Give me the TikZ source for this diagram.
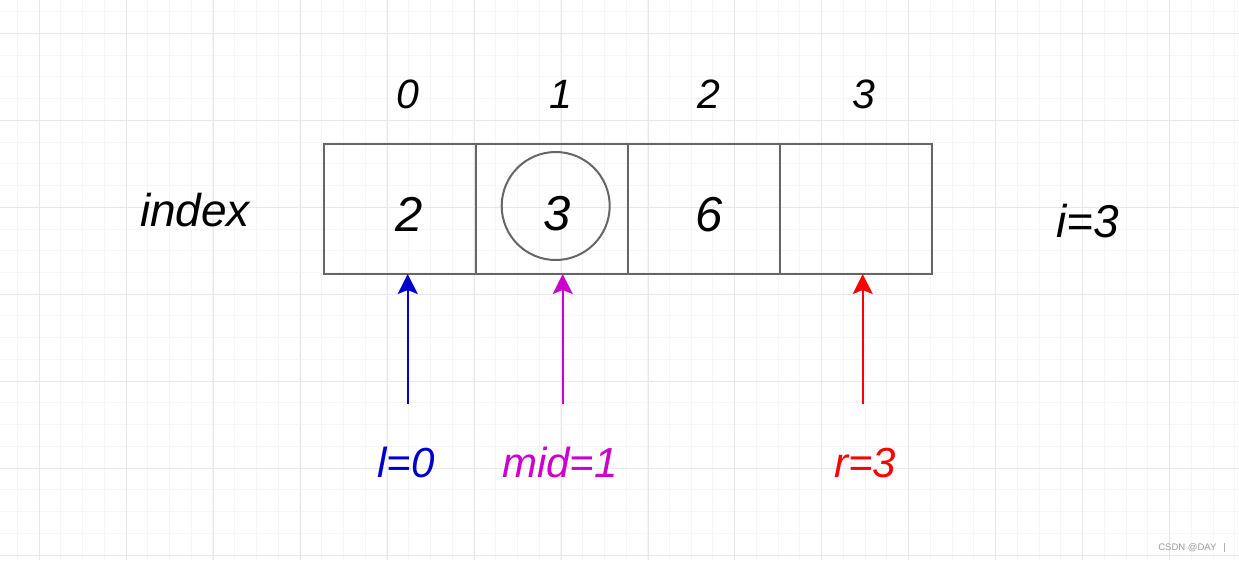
\documentclass[tikz,border=0pt]{standalone}
\usepackage{fontspec}
\setmainfont{Liberation Sans}
\usetikzlibrary{arrows.meta}
\definecolor{gridminor}{HTML}{F6F6F6}
\definecolor{gridmajor}{HTML}{E8E8E8}
\definecolor{boxgray}{HTML}{666666}
\definecolor{lblue}{HTML}{0000CC}
\definecolor{lmag}{HTML}{CC00CC}
\definecolor{lred}{HTML}{FF0000}
\definecolor{wm}{HTML}{9A9A9A}
\tikzset{
  cell/.style={draw=boxgray, line width=2pt, minimum width=152.1pt, minimum height=130.3pt, inner sep=0pt, outer sep=0pt, anchor=north west},
  mark circle/.style={draw=boxgray, line width=2pt, circle, minimum size=108pt, inner sep=0pt, outer sep=0pt},
  txt/.style={font=\fontsize{#1}{#1}\selectfont\itshape, inner sep=0pt, anchor=base},
  ptr/.style={line width=2pt, draw=#1, -{Stealth[length=20pt,width=20pt,inset=4pt]}},
}
\begin{document}
\begin{tikzpicture}[x=1pt,y=-1pt]
\useasboundingbox (0,0) rectangle (1239,560);
\fill[white] (0,0) rectangle (1239,560);
% grid
\foreach \i in {0,...,56} {\draw[gridminor, line width=1pt] ({17.3+\i*21.74},0) -- ({17.3+\i*21.74},560);}
\foreach \j in {0,...,25} {\draw[gridminor, line width=1pt] (0,{11.6+\j*21.74}) -- (1239,{11.6+\j*21.74});}
\foreach \i in {0,...,13} {\draw[gridmajor, line width=1pt] ({39.3+\i*86.96},0) -- ({39.3+\i*86.96},560);}
\foreach \j in {0,...,6} {\draw[gridmajor, line width=1pt] (0,{33.3+\j*86.96}) -- (1239,{33.3+\j*86.96});}

% cells
\node[cell] (c0) at (323.5,143.7) {};
\node[cell] (c1) at (c0.north east) {};
\node[cell] (c2) at (c1.north east) {};
\node[cell] (c3) at (c2.north east) {};
\node[mark circle] (circ) at (555.7,206) {};

% index numbers on top
\node[txt=41pt] (i0) at (408,108) {0};
\node[txt=41pt] (i1) at (561,108) {1};
\node[txt=41pt] (i2) at (709,108) {2};
\node[txt=41pt] (i3) at (864,108) {3};

% values
\node[txt=49pt] (v0) at (409,231) {2};
\node[txt=49pt] (v1) at (557,230) {3};
\node[txt=49pt] (v2) at (709,231) {6};

\node[txt=46pt] (idx) at (195,226) {index};
\node[txt=46pt] (ieq) at (1088,237) {i=3};

% pointers
\node[txt=42pt, text=lblue] (lbl) at (406,477) {l=0};
\node[txt=42pt, text=lmag] (mbl) at (560,477) {mid=1};
\node[txt=42pt, text=lred] (rbl) at (865,477) {r=3};
\coordinate (ls) at (407.7,404);
\coordinate (ms) at (562.7,404);
\coordinate (rs) at (862.7,404);
\draw[ptr=lblue] (ls) -- (ls |- c0.south);
\draw[ptr=lmag] (ms) -- (ms |- c1.south);
\draw[ptr=lred] (rs) -- (rs |- c3.south);

% watermark
\node[font=\fontsize{9.5pt}{9.5pt}\selectfont, text=wm, anchor=base east, inner sep=0pt] (wmk) at (1226,550) {CSDN @DAY\hspace{7pt}|};
\end{tikzpicture}
\end{document}
